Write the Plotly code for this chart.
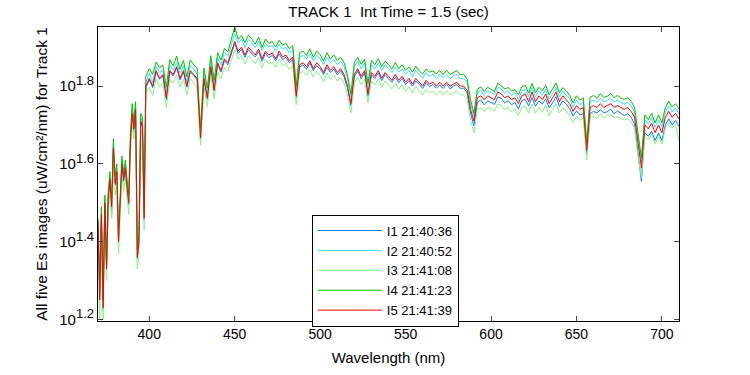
import plotly.graph_objects as go
import numpy as np

# Wavelength grid (nm): 1 nm steps below 400 nm, 2 nm steps above
wavelength = list(range(370, 400)) + list(range(400, 711, 2))

# Values are log10 of Es irradiance (uW/cm^2/nm)
i1_log = [
    1.44, 1.31, 1.465, 1.225, 1.495, 1.325, 1.505, 1.555, 1.47, 1.635,
    1.545, 1.575, 1.395, 1.515, 1.595, 1.555, 1.585, 1.535, 1.495, 1.655,
    1.725, 1.685, 1.735, 1.355, 1.395, 1.705, 1.695, 1.455, 1.795, 1.805,
    1.817, 1.796, 1.836, 1.818, 1.826, 1.765, 1.837, 1.826, 1.847, 1.816,
    1.837, 1.797, 1.836, 1.828, 1.816, 1.662, 1.817, 1.766, 1.846, 1.787,
    1.857, 1.836, 1.866, 1.855, 1.886, 1.91, 1.884, 1.895, 1.874, 1.894,
    1.884, 1.875, 1.889, 1.864, 1.885, 1.873, 1.879, 1.865, 1.883, 1.869,
    1.874, 1.86, 1.868, 1.77, 1.849, 1.855, 1.843, 1.859, 1.84, 1.853,
    1.844, 1.83, 1.848, 1.835, 1.844, 1.829, 1.84, 1.824, 1.795, 1.75,
    1.824, 1.84, 1.819, 1.835, 1.774, 1.829, 1.82, 1.834, 1.814, 1.83,
    1.819, 1.81, 1.823, 1.809, 1.82, 1.804, 1.814, 1.8, 1.813, 1.805,
    1.794, 1.81, 1.799, 1.804, 1.795, 1.803, 1.794, 1.805, 1.793, 1.8,
    1.804, 1.794, 1.795, 1.783, 1.73, 1.698, 1.758, 1.764, 1.752, 1.762,
    1.758, 1.753, 1.772, 1.769, 1.757, 1.763, 1.752, 1.758, 1.742, 1.763,
    1.766, 1.749, 1.771, 1.748, 1.762, 1.754, 1.767, 1.744, 1.757, 1.773,
    1.748, 1.762, 1.754, 1.742, 1.723, 1.736, 1.726, 1.729, 1.625, 1.73,
    1.735, 1.731, 1.739, 1.731, 1.734, 1.741, 1.729, 1.736, 1.73, 1.724,
    1.729, 1.72, 1.703, 1.63, 1.555, 1.68, 1.671, 1.684, 1.66, 1.679,
    1.66, 1.70, 1.716, 1.70, 1.712, 1.696,
]
i2_log = [
    1.455, 1.26, 1.475, 1.24, 1.51, 1.34, 1.52, 1.565, 1.50, 1.65,
    1.56, 1.59, 1.41, 1.53, 1.61, 1.57, 1.60, 1.55, 1.51, 1.67,
    1.74, 1.70, 1.75, 1.37, 1.41, 1.72, 1.71, 1.47, 1.81, 1.82,
    1.834, 1.81, 1.851, 1.834, 1.84, 1.782, 1.853, 1.841, 1.861, 1.833,
    1.853, 1.811, 1.853, 1.843, 1.831, 1.68, 1.833, 1.782, 1.863, 1.802,
    1.874, 1.854, 1.886, 1.876, 1.908, 1.935, 1.91, 1.921, 1.899, 1.92,
    1.911, 1.899, 1.915, 1.891, 1.909, 1.901, 1.904, 1.889, 1.908, 1.895,
    1.90, 1.885, 1.894, 1.792, 1.875, 1.879, 1.87, 1.884, 1.865, 1.879,
    1.87, 1.855, 1.874, 1.86, 1.869, 1.855, 1.864, 1.85, 1.818, 1.772,
    1.85, 1.865, 1.844, 1.86, 1.798, 1.855, 1.845, 1.859, 1.84, 1.855,
    1.845, 1.835, 1.849, 1.836, 1.844, 1.83, 1.84, 1.824, 1.84, 1.83,
    1.82, 1.835, 1.824, 1.831, 1.82, 1.83, 1.821, 1.829, 1.82, 1.826,
    1.83, 1.82, 1.819, 1.81, 1.755, 1.722, 1.783, 1.788, 1.776, 1.788,
    1.782, 1.778, 1.797, 1.793, 1.781, 1.788, 1.776, 1.783, 1.766, 1.787,
    1.791, 1.773, 1.796, 1.772, 1.788, 1.776, 1.792, 1.767, 1.781, 1.797,
    1.772, 1.788, 1.776, 1.768, 1.746, 1.763, 1.752, 1.758, 1.645, 1.759,
    1.765, 1.758, 1.768, 1.76, 1.763, 1.769, 1.759, 1.764, 1.758, 1.754,
    1.759, 1.749, 1.733, 1.662, 1.603, 1.714, 1.703, 1.719, 1.694, 1.713,
    1.694, 1.733, 1.749, 1.733, 1.744, 1.728,
]
i3_log = [
    1.42, 1.20, 1.44, 1.20, 1.47, 1.30, 1.48, 1.53, 1.46, 1.61,
    1.52, 1.55, 1.37, 1.49, 1.575, 1.53, 1.565, 1.515, 1.47, 1.635,
    1.705, 1.665, 1.715, 1.33, 1.37, 1.685, 1.675, 1.43, 1.78, 1.79,
    1.797, 1.776, 1.82, 1.797, 1.809, 1.745, 1.817, 1.807, 1.829, 1.797,
    1.818, 1.777, 1.82, 1.807, 1.797, 1.648, 1.798, 1.748, 1.829, 1.767,
    1.838, 1.818, 1.848, 1.838, 1.868, 1.893, 1.868, 1.878, 1.857, 1.878,
    1.868, 1.857, 1.874, 1.847, 1.868, 1.858, 1.862, 1.848, 1.869, 1.852,
    1.858, 1.842, 1.853, 1.752, 1.833, 1.838, 1.828, 1.842, 1.823, 1.838,
    1.828, 1.812, 1.834, 1.817, 1.828, 1.813, 1.822, 1.808, 1.777, 1.732,
    1.808, 1.823, 1.803, 1.818, 1.757, 1.813, 1.803, 1.818, 1.797, 1.813,
    1.803, 1.793, 1.808, 1.792, 1.804, 1.787, 1.798, 1.782, 1.799, 1.787,
    1.778, 1.792, 1.783, 1.787, 1.778, 1.788, 1.777, 1.788, 1.778, 1.782,
    1.788, 1.778, 1.777, 1.767, 1.712, 1.68, 1.74, 1.745, 1.734, 1.746,
    1.74, 1.736, 1.754, 1.751, 1.739, 1.746, 1.734, 1.741, 1.724, 1.745,
    1.749, 1.731, 1.754, 1.73, 1.746, 1.734, 1.751, 1.724, 1.741, 1.755,
    1.731, 1.744, 1.736, 1.724, 1.706, 1.722, 1.712, 1.718, 1.61, 1.718,
    1.723, 1.717, 1.729, 1.717, 1.724, 1.727, 1.718, 1.722, 1.717, 1.713,
    1.717, 1.707, 1.692, 1.62, 1.565, 1.671, 1.662, 1.677, 1.651, 1.672,
    1.651, 1.692, 1.707, 1.692, 1.702, 1.66,
]
i4_log = [
    1.46, 1.27, 1.49, 1.25, 1.52, 1.35, 1.53, 1.58, 1.50, 1.665,
    1.57, 1.60, 1.42, 1.54, 1.62, 1.575, 1.61, 1.56, 1.52, 1.68,
    1.755, 1.71, 1.76, 1.38, 1.42, 1.73, 1.72, 1.48, 1.825, 1.835,
    1.845, 1.83, 1.862, 1.848, 1.853, 1.797, 1.868, 1.852, 1.877, 1.843,
    1.866, 1.824, 1.867, 1.855, 1.846, 1.69, 1.846, 1.795, 1.878, 1.815,
    1.886, 1.867, 1.897, 1.888, 1.918, 1.952, 1.921, 1.93, 1.912, 1.931,
    1.921, 1.908, 1.926, 1.899, 1.921, 1.91, 1.914, 1.901, 1.918, 1.905,
    1.91, 1.896, 1.904, 1.80, 1.886, 1.89, 1.879, 1.896, 1.874, 1.89,
    1.881, 1.864, 1.886, 1.869, 1.88, 1.866, 1.874, 1.861, 1.828, 1.78,
    1.861, 1.874, 1.856, 1.869, 1.807, 1.866, 1.855, 1.871, 1.85, 1.864,
    1.856, 1.844, 1.861, 1.845, 1.855, 1.841, 1.849, 1.836, 1.851, 1.839,
    1.831, 1.844, 1.836, 1.839, 1.832, 1.84, 1.829, 1.841, 1.83, 1.834,
    1.84, 1.829, 1.831, 1.818, 1.765, 1.73, 1.792, 1.798, 1.786, 1.797,
    1.792, 1.786, 1.808, 1.801, 1.793, 1.796, 1.788, 1.791, 1.778, 1.798,
    1.803, 1.782, 1.807, 1.783, 1.797, 1.788, 1.802, 1.778, 1.792, 1.808,
    1.783, 1.796, 1.788, 1.776, 1.757, 1.775, 1.764, 1.77, 1.655, 1.771,
    1.776, 1.769, 1.781, 1.771, 1.774, 1.781, 1.77, 1.776, 1.769, 1.766,
    1.77, 1.761, 1.745, 1.672, 1.615, 1.726, 1.714, 1.731, 1.705, 1.726,
    1.706, 1.745, 1.761, 1.746, 1.755, 1.741,
]
i5_log = [
    1.45, 1.25, 1.47, 1.23, 1.50, 1.33, 1.51, 1.56, 1.49, 1.64,
    1.55, 1.58, 1.40, 1.52, 1.60, 1.56, 1.59, 1.54, 1.50, 1.66,
    1.73, 1.69, 1.74, 1.36, 1.40, 1.71, 1.70, 1.46, 1.80, 1.81,
    1.82, 1.80, 1.84, 1.82, 1.83, 1.77, 1.84, 1.83, 1.85, 1.82,
    1.84, 1.80, 1.84, 1.83, 1.82, 1.667, 1.82, 1.77, 1.85, 1.79,
    1.86, 1.84, 1.87, 1.86, 1.89, 1.915, 1.89, 1.90, 1.88, 1.90,
    1.89, 1.88, 1.895, 1.87, 1.89, 1.88, 1.885, 1.87, 1.89, 1.875,
    1.88, 1.865, 1.875, 1.775, 1.855, 1.86, 1.85, 1.865, 1.845, 1.86,
    1.85, 1.835, 1.855, 1.84, 1.85, 1.835, 1.845, 1.83, 1.80, 1.755,
    1.83, 1.845, 1.825, 1.84, 1.78, 1.835, 1.825, 1.84, 1.82, 1.835,
    1.825, 1.815, 1.83, 1.815, 1.825, 1.81, 1.82, 1.805, 1.82, 1.81,
    1.80, 1.815, 1.805, 1.81, 1.80, 1.81, 1.80, 1.81, 1.80, 1.805,
    1.81, 1.80, 1.80, 1.79, 1.74, 1.71, 1.77, 1.775, 1.765, 1.775,
    1.77, 1.765, 1.785, 1.78, 1.77, 1.775, 1.765, 1.77, 1.755, 1.775,
    1.78, 1.76, 1.785, 1.76, 1.775, 1.765, 1.78, 1.755, 1.77, 1.785,
    1.76, 1.775, 1.765, 1.755, 1.735, 1.75, 1.74, 1.745, 1.635, 1.745,
    1.75, 1.745, 1.755, 1.745, 1.75, 1.755, 1.745, 1.75, 1.745, 1.74,
    1.745, 1.735, 1.72, 1.65, 1.59, 1.70, 1.69, 1.705, 1.68, 1.70,
    1.68, 1.72, 1.735, 1.72, 1.73, 1.715,
]

series_names = ["I1 21:40:36", "I2 21:40:52", "I3 21:41:08", "I4 21:41:23", "I5 21:41:39"]
series_colors = ["#0a7cff", "#2ee8f5", "#84f584", "#00c400", "#ff0000"]
series_values = [i1_log, i2_log, i3_log, i4_log, i5_log]

x_ticks = [400, 450, 500, 550, 600, 650, 700]
y_tick_exps = [1.2, 1.4, 1.6, 1.8]
y_tick_text = ["10<sup><span style='font-size:13px'>%s</span></sup>" % e for e in ["1.2", "1.4", "1.6", "1.8"]]

FONT = "Liberation Sans, Arial, Helvetica, sans-serif"

fig = go.Figure()
for name, color, vals in zip(series_names, series_colors, series_values):
    fig.add_trace(go.Scatter(
        x=wavelength, y=10 ** np.array(vals), mode="lines", name=name,
        line=dict(color=color, width=1),
    ))

fig.update_layout(
    width=750, height=375,
    margin=dict(l=98, r=71, t=27, b=44),
    paper_bgcolor="white", plot_bgcolor="white",
    font=dict(family=FONT, size=13, color="black"),
    title=dict(text="TRACK 1  Int Time = 1.5 (sec)", x=0.5, xref="paper",
               y=0.968, yanchor="middle", font=dict(size=15)),
    showlegend=True,
    legend=dict(x=0.368, y=0.362, xanchor="left", yanchor="top",
                bgcolor="white", bordercolor="black", borderwidth=1,
                font=dict(size=13), itemwidth=64, tracegroupgap=0),
)
fig.update_xaxes(
    range=[370, 710], tickvals=x_ticks, ticks="inside", ticklen=5,
    showline=True, linecolor="black", linewidth=1, mirror="ticks",
    showgrid=False, zeroline=False, tickfont=dict(size=14),
    title=dict(text="Wavelength (nm)", font=dict(size=15), standoff=11),
)
fig.update_yaxes(
    type="log", range=[1.196, 1.952], tickvals=[10 ** e for e in y_tick_exps],
    ticktext=y_tick_text, ticks="inside", ticklen=5,
    showline=True, linecolor="black", linewidth=1, mirror="ticks",
    showgrid=False, zeroline=False, tickfont=dict(size=15),
    title=dict(text="All five Es images (uW/cm²/nm) for Track 1", font=dict(size=15.5), standoff=7),
)

fig.write_html("out.html", post_script="document.body.style.margin='0px';",
               config={"displayModeBar": False})
